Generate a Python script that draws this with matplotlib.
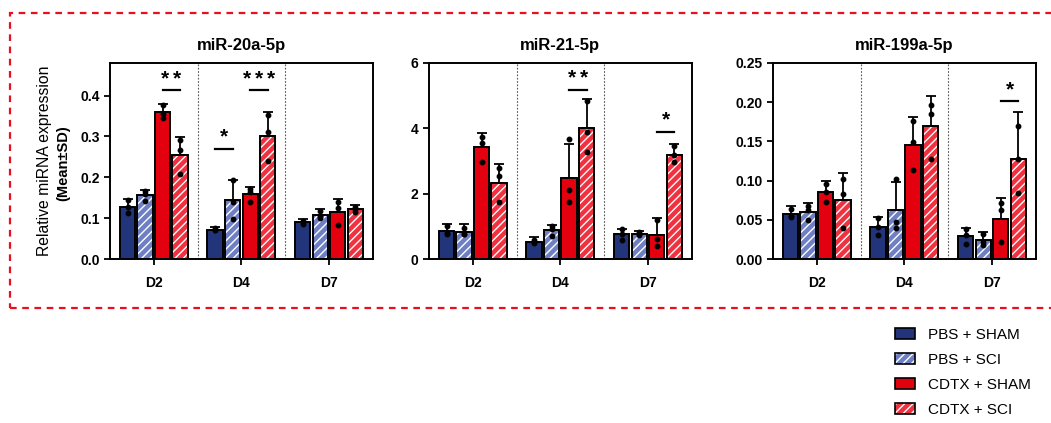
import matplotlib.pyplot as plt
import matplotlib.patches as mpatches
import numpy as np

plt.rcParams['font.family'] = ['Liberation Sans', 'DejaVu Sans']
plt.rcParams['hatch.linewidth'] = 1.0

groups = ['D2', 'D4', 'D7']
series = ['PBS + SHAM', 'PBS + SCI', 'CDTX + SHAM', 'CDTX + SCI']
face_colors = ['#22357a', '#6f7fc4', '#e3000f', '#f0313f']
hatched = [False, True, False, True]

# miR-20a-5p: mean, sd per group (rows) and series (cols)
mir20_mean = [[0.128, 0.156, 0.359, 0.255],
              [0.072, 0.144, 0.158, 0.301],
              [0.090, 0.108, 0.115, 0.122]]
mir20_sd = [[0.018, 0.013, 0.020, 0.044],
            [0.007, 0.049, 0.018, 0.058],
            [0.008, 0.015, 0.033, 0.010]]
mir20_pts = [[[0.112, 0.128, 0.145], [0.142, 0.160, 0.166], [0.346, 0.354, 0.378], [0.207, 0.267, 0.291]],
             [[0.070, 0.072, 0.075], [0.098, 0.140, 0.193], [0.140, 0.163, 0.171], [0.241, 0.310, 0.352]],
             [[0.086, 0.091, 0.094], [0.100, 0.106, 0.118], [0.083, 0.124, 0.139], [0.115, 0.123, 0.128]]]
mir20_sig = [(0, 2, 3, 0.413, 2), (1, 0, 1, 0.270, 1), (1, 2, 3, 0.413, 3)]

# miR-21-5p
mir21_mean = [[0.85, 0.83, 3.42, 2.34],
              [0.53, 0.88, 2.48, 4.00],
              [0.76, 0.78, 0.73, 3.19]]
mir21_sd = [[0.23, 0.25, 0.44, 0.57],
            [0.13, 0.15, 1.05, 0.90],
            [0.16, 0.08, 0.53, 0.34]]
mir21_pts = [[[0.77, 0.80, 1.00], [0.77, 0.78, 0.95], [2.98, 3.55, 3.72], [1.74, 2.53, 2.79]],
             [[0.49, 0.52, 0.58], [0.71, 0.93, 1.00], [1.73, 2.10, 3.67], [3.28, 3.89, 4.85]],
             [[0.59, 0.78, 0.92], [0.75, 0.78, 0.82], [0.41, 0.61, 1.20], [2.96, 3.18, 3.45]]]
mir21_sig = [(1, 2, 3, 5.18, 2), (2, 2, 3, 3.89, 1)]

# miR-199a-5p
mir199_mean = [[0.057, 0.060, 0.085, 0.075],
               [0.041, 0.062, 0.146, 0.170],
               [0.029, 0.024, 0.051, 0.127]]
mir199_sd = [[0.010, 0.012, 0.014, 0.035],
             [0.013, 0.036, 0.035, 0.038],
             [0.011, 0.011, 0.027, 0.060]]
mir199_pts = [[[0.053, 0.055, 0.064], [0.050, 0.063, 0.068], [0.073, 0.086, 0.096], [0.040, 0.083, 0.102]],
              [[0.030, 0.041, 0.052], [0.040, 0.047, 0.102], [0.114, 0.149, 0.176], [0.128, 0.185, 0.196]],
              [[0.019, 0.030, 0.038], [0.018, 0.022, 0.032], [0.022, 0.062, 0.071], [0.084, 0.127, 0.170]]]
mir199_sig = [(2, 2, 3, 0.2015, 1)]

panels = [
    ('miR-20a-5p', mir20_mean, mir20_sd, mir20_pts, mir20_sig, 0.48, [0.0, 0.1, 0.2, 0.3, 0.4], '{:.1f}'),
    ('miR-21-5p', mir21_mean, mir21_sd, mir21_pts, mir21_sig, 6, [0, 2, 4, 6], '{:.0f}'),
    ('miR-199a-5p', mir199_mean, mir199_sd, mir199_pts, mir199_sig, 0.25,
     [0.0, 0.05, 0.10, 0.15, 0.20, 0.25], '{:.2f}'),
]

offsets = [-0.3, -0.1, 0.1, 0.3]
bar_w = 0.175

fig = plt.figure(figsize=(10.51, 4.23), dpi=100)
lefts = [0.1047, 0.4082, 0.7355]

for k, (title, means, sds, pts, sigs, ymax, yticks, fmt) in enumerate(panels):
    ax = fig.add_axes([lefts[k], 0.3877, 0.2500, 0.4634])
    means = np.array(means)
    sds = np.array(sds)
    xg = np.arange(len(groups))
    for j in range(len(series)):
        x = xg + offsets[j]
        if hatched[j]:
            ax.bar(x, means[:, j], bar_w, color=face_colors[j], edgecolor='white',
                   hatch='////', linewidth=0, zorder=2)
        else:
            ax.bar(x, means[:, j], bar_w, color=face_colors[j], linewidth=0, zorder=2)
        ax.bar(x, means[:, j], bar_w, fill=False, edgecolor='black', linewidth=1.4, zorder=3)
        ax.errorbar(x, means[:, j], yerr=[np.zeros(len(groups)), sds[:, j]], fmt='none',
                    ecolor='black', elinewidth=1.3, capsize=3.5, capthick=1.3, zorder=4)
        for g in range(len(groups)):
            p = pts[g][j]
            ax.plot([x[g]] * len(p), p, 'o', color='black', markersize=3.2, zorder=5)

    for xd in [0.5, 1.5]:
        ax.axvline(xd, color='#555555', linestyle=(0, (1.5, 1.5)), linewidth=0.8, zorder=1)

    # significance bars with spaced asterisks
    for g, a, b, yl, nstar in sigs:
        x1 = g + offsets[a]
        x2 = g + offsets[b]
        ax.plot([x1, x2], [yl, yl], color='black', linewidth=1.6, zorder=5)
        for i in range(nstar):
            dx = (i - (nstar - 1) / 2) * 8.5
            ax.annotate('*', xy=((x1 + x2) / 2, yl), xytext=(dx, 1.5), textcoords='offset points',
                        ha='center', va='bottom', fontsize=15, fontweight='bold')

    ax.set_xlim(-0.5, 2.5)
    ax.set_ylim(0, ymax)
    ax.set_xticks(xg)
    ax.set_xticklabels(groups, fontsize=10, fontweight='bold')
    ax.set_yticks(yticks)
    ax.set_yticklabels([fmt.format(v) for v in yticks], fontsize=10, fontweight='bold')
    ax.tick_params(axis='both', direction='out', length=4.5, width=1.3, pad=3)
    ax.tick_params(axis='x', pad=8)
    for s in ax.spines.values():
        s.set_linewidth(1.4)
    ax.set_title(title, fontsize=12, fontweight='bold', pad=9)

# y label, two lines
fig.text(45 / 1051, 1 - 161 / 423, 'Relative miRNA expression', rotation=90, ha='center', va='center',
         fontsize=11.3)
fig.text(63 / 1051, 1 - 163 / 423, '(Mean\u00b1SD)', rotation=90, ha='center', va='center',
         fontsize=10.5, fontweight='bold')

# red dashed frame
frame = mpatches.Rectangle((10 / 1051, 1 - 308 / 423), 1.05, (308 - 13) / 423,
                           transform=fig.transFigure, fill=False, edgecolor='#e8101e',
                           linestyle=(0, (3, 2.5)), linewidth=1.6, clip_on=False)
fig.patches.append(frame)

handles = []
for j in range(len(series)):
    fill = mpatches.Patch(facecolor=face_colors[j], edgecolor='white', linewidth=0,
                          hatch='////' if hatched[j] else None)
    edge = mpatches.Patch(fill=False, edgecolor='black', linewidth=1.2)
    handles.append((fill, edge))
fig.legend(handles=handles, labels=series, loc='upper left', bbox_to_anchor=(0.8516, 0.225),
           frameon=False, fontsize=11, handlelength=1.3, handleheight=0.65, handletextpad=0.85,
           labelspacing=0.72, borderpad=0, borderaxespad=0)

fig.savefig('out.png', dpi=100)
